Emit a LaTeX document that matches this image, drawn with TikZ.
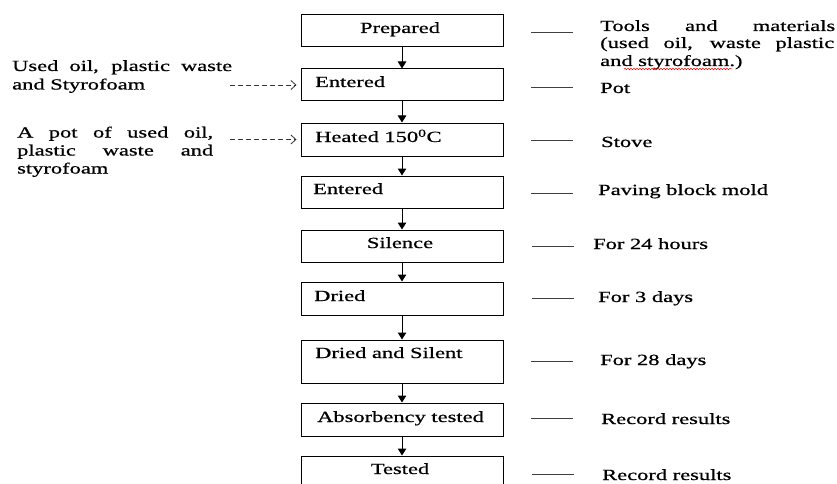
\documentclass[tikz,border=0pt]{standalone}
\usepackage{fontspec}
\setmainfont[FakeStretch=1.45,FakeBold=0.7]{Liberation Serif}
\usetikzlibrary{arrows.meta,decorations.pathmorphing}
\tikzset{
  box/.style={draw, line width=1pt, rectangle, minimum width=202pt, inner sep=0pt},
  txt/.style={font=\fontsize{15.5}{18}\selectfont, inner sep=0pt, anchor=base west},
  ctxt/.style={txt, anchor=base},
  flow/.style={draw, line width=1pt, -{Triangle[length=7pt,width=8.5pt]}},
  darr/.style={draw, black!80, line width=0.8pt, dash pattern=on 5pt off 3pt, -{Straight Barb[length=5pt,width=9pt]}, shorten >=4pt},
  sline/.style={draw, black!75, line width=0.9pt}
}
\begin{document}
\begin{tikzpicture}[x=1pt,y=-1pt]
\fill[white] (0,0) rectangle (837,484);
\clip (0,0) rectangle (837,484);
% boxes
\node[box, minimum height=32pt] (b1) at (402,31) {};
\node[box, minimum height=32pt] (b2) at (402,85) {};
\node[box, minimum height=33pt] (b3) at (402,139.5) {};
\node[box, minimum height=32pt] (b4) at (402,192) {};
\node[box, minimum height=32pt] (b5) at (402,246) {};
\node[box, minimum height=33pt] (b6) at (402,298.5) {};
\node[box, minimum height=43pt] (b7) at (402,361.5) {};
\node[box, minimum height=33pt] (b8) at (402,419.5) {};
\node[box, minimum height=38pt] (b9) at (402,475) {};
% box texts
\node[ctxt] (t1) at (400,33) {Prepared};
\node[txt] (t2) at (315,87) {Entered};
\node[txt] (t3) at (315,142) {Heated 150\textsuperscript{0}C};
\node[txt] (t4) at (313,194) {Entered};
\node[ctxt] (t5) at (400,248) {Silence};
\node[txt] (t6) at (314,301) {Dried};
\node[txt] (t7) at (315,358) {Dried and Silent};
\node[txt] (t8) at (317,422) {Absorbency tested};
\node[ctxt] (t9) at (400,474) {Tested};
% flow arrows
\draw[flow] (b1) -- (b2);
\draw[flow] (b2) -- (b3);
\draw[flow] (b3) -- (b4);
\draw[flow] (b4) -- (b5);
\draw[flow] (b5) -- (b6);
\draw[flow] (b6) -- (b7);
\draw[flow] (b7) -- (b8);
\draw[flow] (b8) -- (b9);
% left texts
\node[txt] (l1a) at (12,71) {\makebox[220pt][s]{Used oil, plastic waste}};
\node[txt] (l1b) at (12,89.5) {and Styrofoam};
\node[txt] (l2a) at (17,137.5) {\makebox[196pt][s]{A pot of used oil,}};
\node[txt] (l2b) at (17,155.5) {\makebox[196pt][s]{plastic waste and}};
\node[txt] (l2c) at (17,173.5) {styrofoam};
% dashed arrows
\coordinate (d1) at (230,85);
\coordinate (d2) at (230,139.5);
\draw[darr] (d1) -- (d1 -| b2.west);
\draw[darr] (d2) -- (d2 -| b3.west);
% right short lines
\draw[sline] (531,32) -- (573,32);
\draw[sline] (531,87) -- (573,87);
\draw[sline] (531,140) -- (573,140);
\draw[sline] (531,193) -- (573,193);
\draw[sline] (532,246) -- (574,246);
\draw[sline] (532,298) -- (574,298);
\draw[sline] (531,361) -- (573,361);
\draw[sline] (531,418) -- (573,418);
\draw[sline] (532,474) -- (574,474);
% right texts
\node[txt] (r1a) at (600,31) {\makebox[235pt][s]{Tools and materials}};
\node[txt] (r1b) at (600,48) {\makebox[234pt][s]{(used oil, waste plastic}};
\node[txt] (r1c) at (600,66) {and styrofoam.)};
\draw[red, line width=0.5pt, decorate, decoration={snake, amplitude=0.7pt, segment length=3pt}] (624,69) -- (732,69);
\node[txt] (r2) at (600,93) {Pot};
\node[txt] (r3) at (601,147) {Stove};
\node[txt] (r4) at (598,195) {Paving block mold};
\node[txt] (r5) at (593,249) {For 24 hours};
\node[txt] (r6) at (598,302) {For 3 days};
\node[txt] (r7) at (600,365) {For 28 days};
\node[txt] (r8) at (601,424) {Record results};
\node[txt] (r9) at (602,480) {Record results};
\end{tikzpicture}
\end{document}
